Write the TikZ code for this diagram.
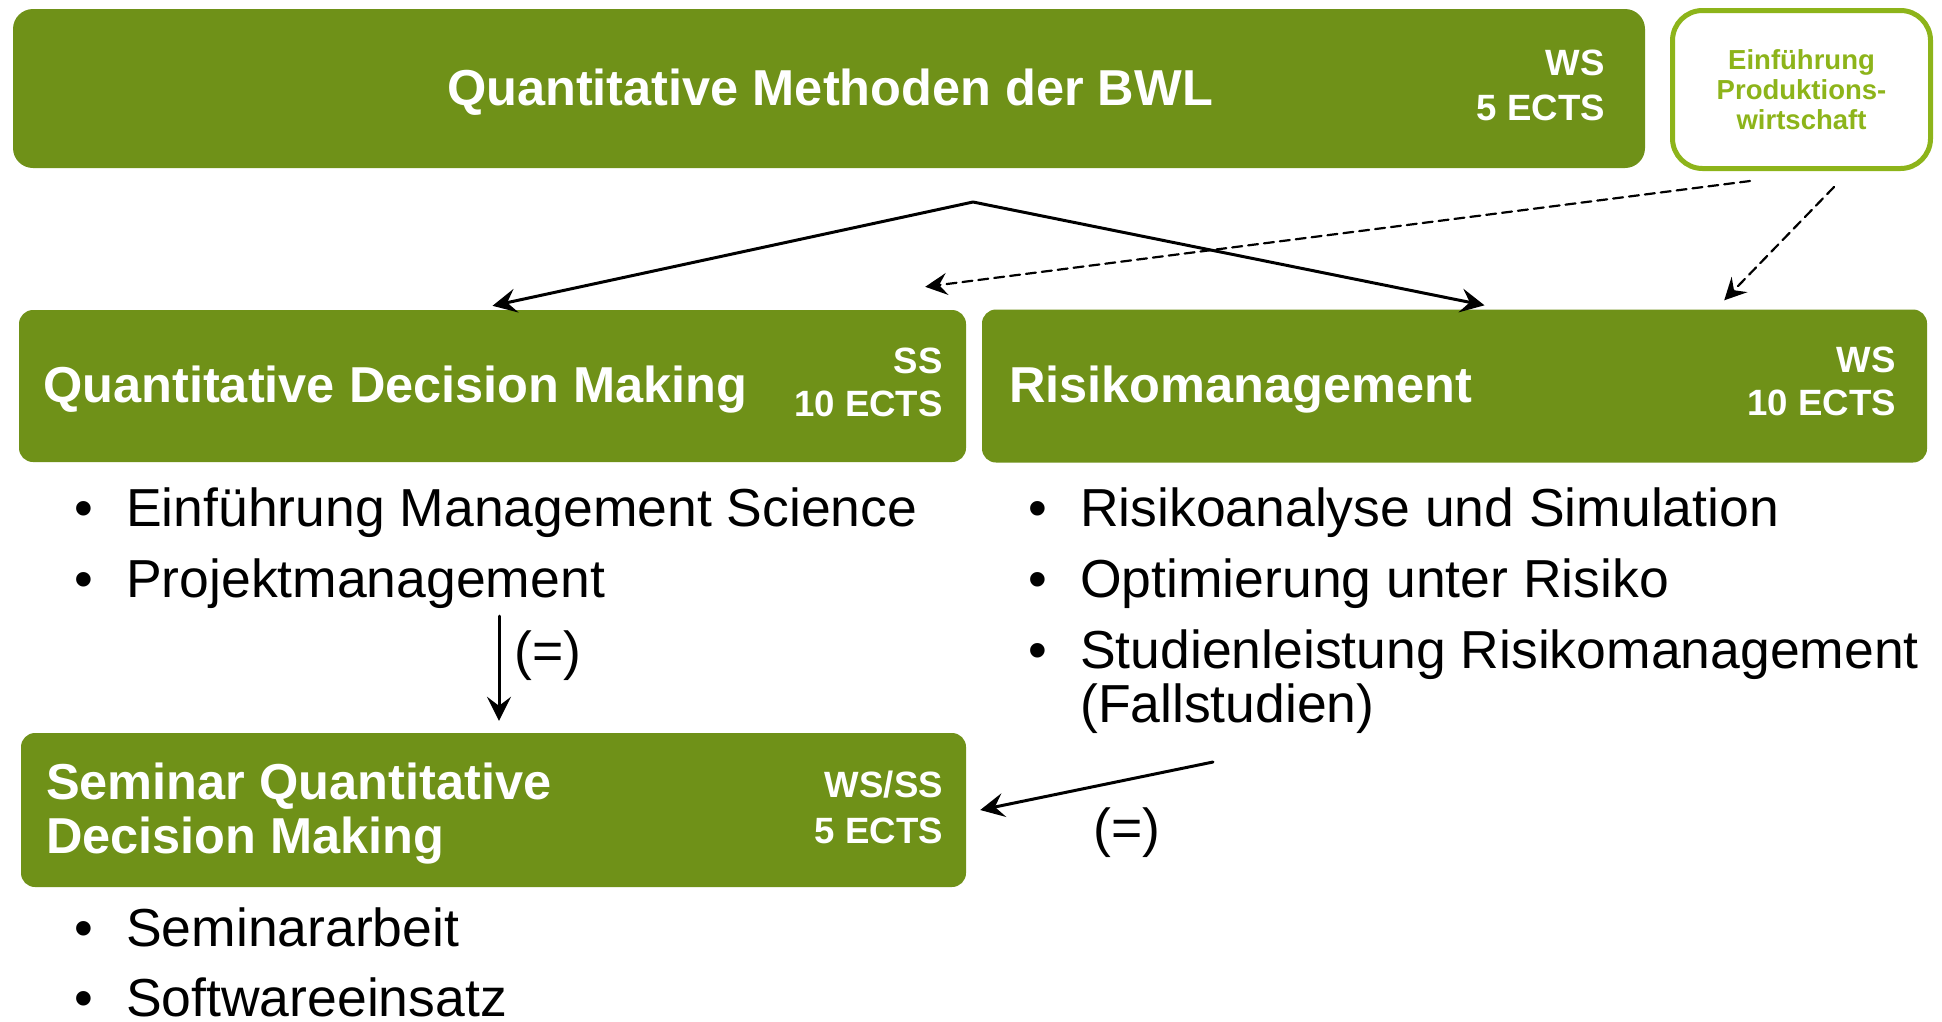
\documentclass[tikz,border=0pt]{standalone}
\usepackage{fontspec}
\setmainfont{Liberation Sans}
\usetikzlibrary{arrows.meta}
\definecolor{qmgreen}{RGB}{111,145,24}
\definecolor{qmlight}{RGB}{141,180,26}
\tikzset{
  modul/.style={fill=qmgreen, rounded corners=14pt, inner sep=0pt},
  kopf/.style={text=white, font=\fontsize{50.5}{54}\selectfont\bfseries, inner sep=0pt},
  ects/.style={text=white, font=\fontsize{36.6}{45}\selectfont\bfseries, inner sep=0pt, anchor=base east},
  punkt/.style={font=\fontsize{53.5}{54.5}\selectfont, inner sep=0pt, anchor=base west},
  pfeil/.style={line width=3pt},
  strich/.style={-{Stealth[length=22pt,width=22pt,inset=8pt]}, line width=2.2pt, dash pattern=on 10pt off 6pt},
}
\newcommand{\bul}{\llap{\textbullet\hspace{32.6pt}}}
\begin{document}
\begin{tikzpicture}[x=1pt, y=-1pt, line join=round, line cap=round]
\useasboundingbox (0,0) rectangle (1942,1021);
% Module
\node[modul, rounded corners=20pt, minimum width=1632pt, minimum height=159pt] (qmb) at (829,88.5) {};
\node[draw=qmlight, line width=5pt, rounded corners=30pt, fill=white, minimum width=258pt, minimum height=158pt,
  align=center, text=qmlight, font=\fontsize{27.5}{30}\selectfont\bfseries] (prod) at (1801.5,89.5)
  {Einführung\\Produktions-\\wirtschaft};
\node[modul, minimum width=947pt, minimum height=152pt] (qdm) at (492.5,386) {};
\node[modul, minimum width=945pt, minimum height=153pt] (risk) at (1454.5,386) {};
\node[modul, minimum width=945pt, minimum height=154pt] (sem) at (493.5,810) {};
% Titel
\node[kopf, anchor=base] (qmb-t) at (830,105) {Quantitative Methoden der BWL};
\node[ects] (qmb-s) at (1605,75) {WS};
\node[ects] (qmb-e) at (1605,120) {5 ECTS};
\node[kopf, anchor=base west] (qdm-t) at (43,402) {Quantitative Decision Making};
\node[ects] (qdm-s) at (943,373) {SS};
\node[ects] (qdm-e) at (943,416) {10 ECTS};
\node[kopf, anchor=base west] (risk-t) at (1009,402) {Risikomanagement};
\node[ects] (risk-s) at (1896,372) {WS};
\node[ects] (risk-e) at (1896,415) {10 ECTS};
\node[kopf, anchor=base west] (sem-t1) at (46,799) {Seminar Quantitative};
\node[kopf, anchor=base west] (sem-t2) at (46,853) {Decision Making};
\node[ects] (sem-s) at (943,797) {WS/SS};
\node[ects] (sem-e) at (943,843) {5 ECTS};
% Inhalte
\foreach \y/\t [count=\i] in {526/Einführung Management Science, 597/Projektmanagement}
  \node[punkt] (qdm-\i) at (126,\y) {\bul\t};
\foreach \y/\t [count=\i] in {526/Risikoanalyse und Simulation, 597/Optimierung unter Risiko, 668/Studienleistung Risikomanagement}
  \node[punkt] (risk-\i) at (1080,\y) {\bul\t};
\node[punkt] (risk-4) at (1080,722) {(Fallstudien)};
\foreach \y/\t [count=\i] in {946/Seminararbeit, 1016/Softwareeinsatz}
  \node[punkt] (sem-\i) at (126,\y) {\bul\t};
% Pfeile
\coordinate (split) at (973,202);
\draw[pfeil, {Stealth[length=24pt,width=24pt,inset=9pt]}-{Stealth[length=24pt,width=24pt,inset=9pt]}]
  ([yshift=4pt]qdm.north) -- (split) -- ([xshift=30pt,yshift=4pt]risk.north);
\draw[strich] ([xshift=-51.5pt,yshift=-10pt]prod.south) -- ([xshift=-41pt,yshift=23pt]qdm.north east);
\draw[strich] ([xshift=32.5pt,yshift=-16pt]prod.south) -- ([xshift=-203pt,yshift=9pt]risk.north east);
\coordinate (d1) at (499,616);
\draw[pfeil, -{Stealth[length=24pt,width=24pt,inset=9pt]}] (d1) -- ([yshift=12pt]d1 |- sem.north)
  node[pos=0.38, right=14pt, font=\fontsize{53.5}{54.5}\selectfont, inner sep=0pt] (eq1) {(=)};
\coordinate (d2) at (1213,762);
\draw[pfeil, -{Stealth[length=24pt,width=24pt,inset=9pt]}] (d2) -- ([xshift=14pt]sem.east);
\node[font=\fontsize{53.5}{54.5}\selectfont, inner sep=0pt] (eq2) at (1127,833) {(=)};
\end{tikzpicture}
\end{document}
